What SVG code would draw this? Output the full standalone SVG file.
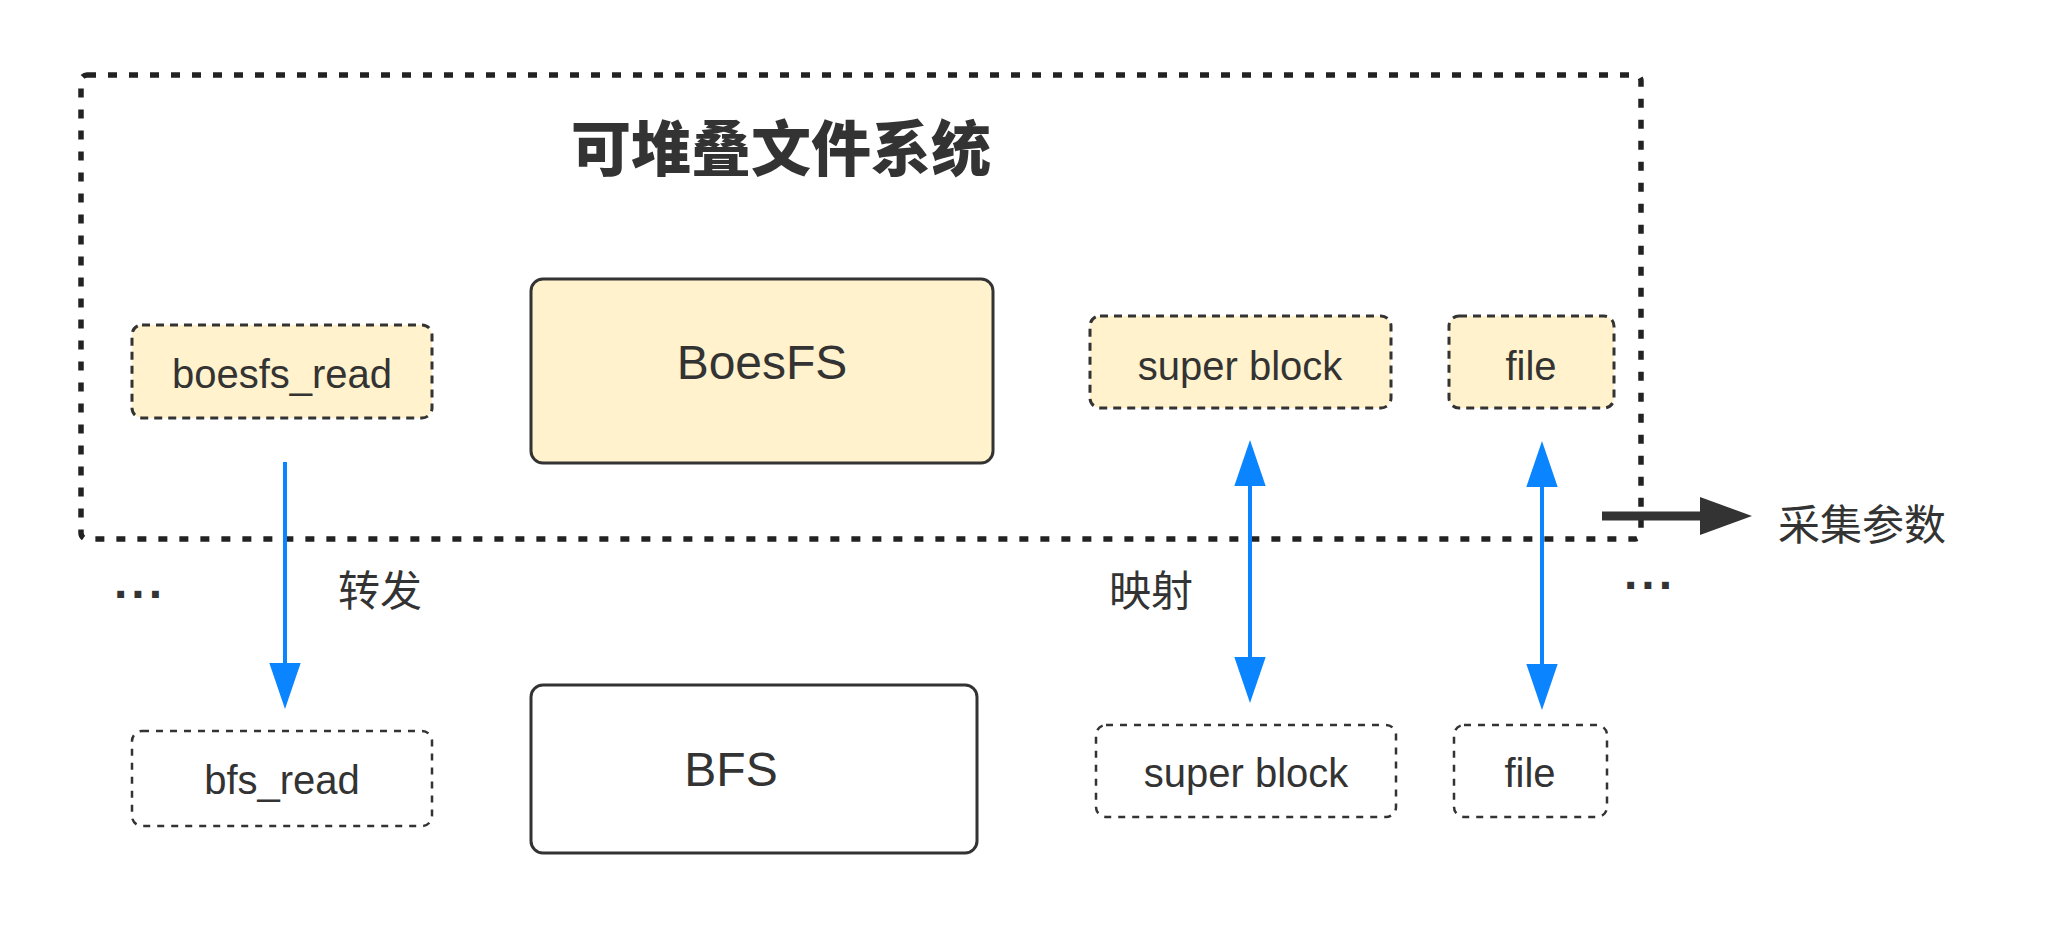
<svg xmlns="http://www.w3.org/2000/svg" width="2069" height="928" viewBox="0 0 2069 928">
<style>
  .lbl { font-family: "Liberation Sans", "Noto Sans", sans-serif; fill: #333333; text-anchor: middle; }
  .cjk { font-family: "Noto Sans CJK SC", "Noto Sans", sans-serif; fill: #333333; text-anchor: middle; }
  .dots { font-family: "Liberation Sans", "Noto Sans", sans-serif; fill: #333333; text-anchor: middle; font-weight: bold; font-size: 48px; letter-spacing: 4px; }
  .upper { fill: #fff2cc; stroke: #333333; stroke-width: 3; stroke-dasharray: 8 6; }
  .lower { fill: #ffffff; stroke: #333333; stroke-width: 2.5; stroke-dasharray: 7 7; }
  .solid { stroke: #333333; stroke-width: 3; }
  .blue { stroke: #0a84ff; stroke-width: 4; fill: none; }
</style>
<defs>
  <marker id="bh" markerUnits="userSpaceOnUse" markerWidth="46" markerHeight="32" viewBox="0 0 44 30" refX="0" refY="15" orient="auto-start-reverse">
    <path d="M0,0 L44,15 L0,30 Z" fill="#0a84ff"/>
  </marker>
</defs>
<rect width="2069" height="928" fill="#ffffff"/>

<g id="container">
  <rect x="81" y="75" width="1560" height="464" rx="6" fill="none" stroke="#222222" stroke-width="5.5" stroke-dasharray="9 12"/>
  <text class="cjk" x="781" y="171" font-size="60" font-weight="900">可堆叠文件系统</text>
</g>

<g id="boesfs_read">
  <rect class="upper" x="132" y="325" width="300" height="93" rx="10"/>
  <text class="lbl" x="282" y="388" font-size="40">boesfs_read</text>
</g>
<g id="BoesFS">
  <rect class="solid" x="531" y="279" width="462" height="184" rx="12" fill="#fff2cc"/>
  <text class="lbl" x="762" y="379" font-size="48">BoesFS</text>
</g>
<g id="super_block_top">
  <rect class="upper" x="1090" y="316" width="301" height="92" rx="10"/>
  <text class="lbl" x="1240" y="380" font-size="40">super block</text>
</g>
<g id="file_top">
  <rect class="upper" x="1449" y="316" width="165" height="92" rx="10"/>
  <text class="lbl" x="1531" y="380" font-size="40">file</text>
</g>

<g id="bfs_read">
  <rect class="lower" x="132" y="731" width="300" height="95" rx="10"/>
  <text class="lbl" x="282" y="794" font-size="40">bfs_read</text>
</g>
<g id="BFS">
  <rect class="solid" x="531" y="685" width="446" height="168" rx="12" fill="#ffffff"/>
  <text class="lbl" x="731" y="786" font-size="48">BFS</text>
</g>
<g id="super_block_bottom">
  <rect class="lower" x="1096" y="725" width="300" height="92" rx="10"/>
  <text class="lbl" x="1246" y="787" font-size="40">super block</text>
</g>
<g id="file_bottom">
  <rect class="lower" x="1454" y="725" width="153" height="92" rx="10"/>
  <text class="lbl" x="1530" y="787" font-size="40">file</text>
</g>

<g id="ellipsis_left">
  <text class="dots" x="140" y="598">...</text>
</g>
<g id="ellipsis_right">
  <text class="dots" x="1650" y="589">...</text>
</g>
<g id="output_label">
  <text class="cjk" x="1862" y="540" font-size="42">采集参数</text>
</g>

<g id="connectors">
  <path class="blue" d="M285,462 L285,663" marker-end="url(#bh)"/>
  <text class="cjk" x="380" y="606" font-size="42">转发</text>
  <path class="blue" d="M1250,486 L1250,657" marker-start="url(#bh)" marker-end="url(#bh)"/>
  <text class="cjk" x="1151" y="606" font-size="42">映射</text>
  <path class="blue" d="M1542,487 L1542,664" marker-start="url(#bh)" marker-end="url(#bh)"/>
  <line x1="1602" y1="516" x2="1702" y2="516" stroke="#333333" stroke-width="9"/>
  <polygon points="1700,497 1752,516 1700,535" fill="#333333"/>
</g>
</svg>
